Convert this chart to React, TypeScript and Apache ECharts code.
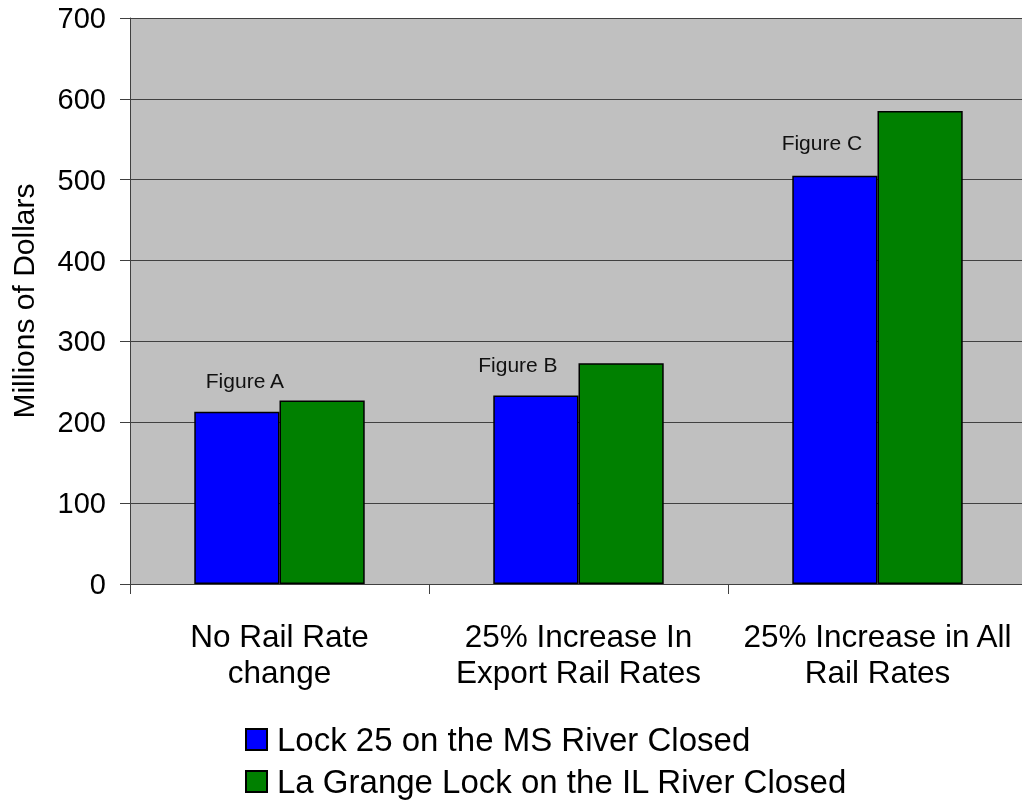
import React, { useEffect, useRef } from "react";
import * as echarts from "echarts";

const categories = ["No Rail Rate\nchange", "25% Increase In\nExport Rail Rates", "25% Increase in All\nRail Rates"];
const seriesNames = ["Lock 25 on the MS River Closed", "La Grange Lock on the IL River Closed"];
const lock25Values = [213, 233, 505];
const laGrangeValues = [227, 273, 585];
const figureLabels = ["Figure A", "Figure B", "Figure C"];
const yTicks = { min: 0, max: 700, interval: 100 };

const FONT = "Arial, 'Liberation Sans', sans-serif";
const labelOffsets: [number, number][] = [[8, -16], [-18, -16], [-13, -18]];

const legendBase = {
  orient: "vertical",
  left: 245,
  padding: 0,
  itemWidth: 21,
  itemHeight: 21,
  icon: "rect",
  textStyle: { fontSize: 33, color: "#000", fontFamily: FONT, padding: [0, 0, 0, 5], lineHeight: 21 },
};

export default function App() {
  const ref = useRef<HTMLDivElement>(null);
  useEffect(() => {
    if (!ref.current) return;
    const chart = echarts.init(ref.current, undefined, { renderer: "svg" });
    chart.setOption({
      animation: false,
      textStyle: { fontFamily: FONT },
      grid: {
        left: 130,
        top: 18,
        width: 897,
        height: 566,
        show: true,
        backgroundColor: "#C0C0C0",
        borderWidth: 0,
        containLabel: false,
        outerBoundsMode: "none",
      },
      legend: [
        { ...legendBase, top: 723, data: [seriesNames[0]] },
        { ...legendBase, top: 765, data: [seriesNames[1]] },
      ],
      xAxis: {
        type: "category",
        data: categories,
        axisLine: { show: true, lineStyle: { color: "#404040", width: 1 } },
        axisTick: { show: true, length: 10, lineStyle: { color: "#404040" } },
        axisLabel: {
          fontSize: 31.5,
          color: "#000",
          fontFamily: FONT,
          lineHeight: 36,
          margin: 34,
          interval: 0,
        },
      },
      yAxis: {
        type: "value",
        min: yTicks.min,
        max: yTicks.max,
        interval: yTicks.interval,
        name: "Millions of Dollars",
        nameLocation: "middle",
        nameGap: 92,
        nameTextStyle: { fontSize: 30, color: "#000", fontFamily: FONT },
        axisLine: { show: true, lineStyle: { color: "#404040", width: 1 } },
        axisTick: { show: true, length: 10, lineStyle: { color: "#404040" } },
        axisLabel: { fontSize: 29, color: "#000", fontFamily: FONT, margin: 24 },
        splitLine: { show: true, lineStyle: { color: "#404040", width: 1 } },
      },
      series: [
        {
          name: seriesNames[0],
          type: "bar",
          barGap: "0%",
          barCategoryGap: "43%",
          itemStyle: { color: "#0000FF", borderColor: "#000", borderWidth: 1.5 },
          data: lock25Values.map((v, i) => ({
            value: v,
            label: {
              show: true,
              position: "top",
              formatter: figureLabels[i],
              offset: labelOffsets[i],
              fontSize: 21,
              color: "#111",
              fontFamily: FONT,
            },
          })),
        },
        {
          name: seriesNames[1],
          type: "bar",
          barGap: "0%",
          barCategoryGap: "43%",
          itemStyle: { color: "#008000", borderColor: "#000", borderWidth: 1.5 },
          data: laGrangeValues,
        },
      ],
    });
    return () => chart.dispose();
  }, []);
  return (
    <div style={{ position: "fixed", left: 0, top: 0, width: 1022, height: 800, overflow: "hidden" }}>
      <div ref={ref} style={{ width: 1030, height: 800 }} />
    </div>
  );
}
